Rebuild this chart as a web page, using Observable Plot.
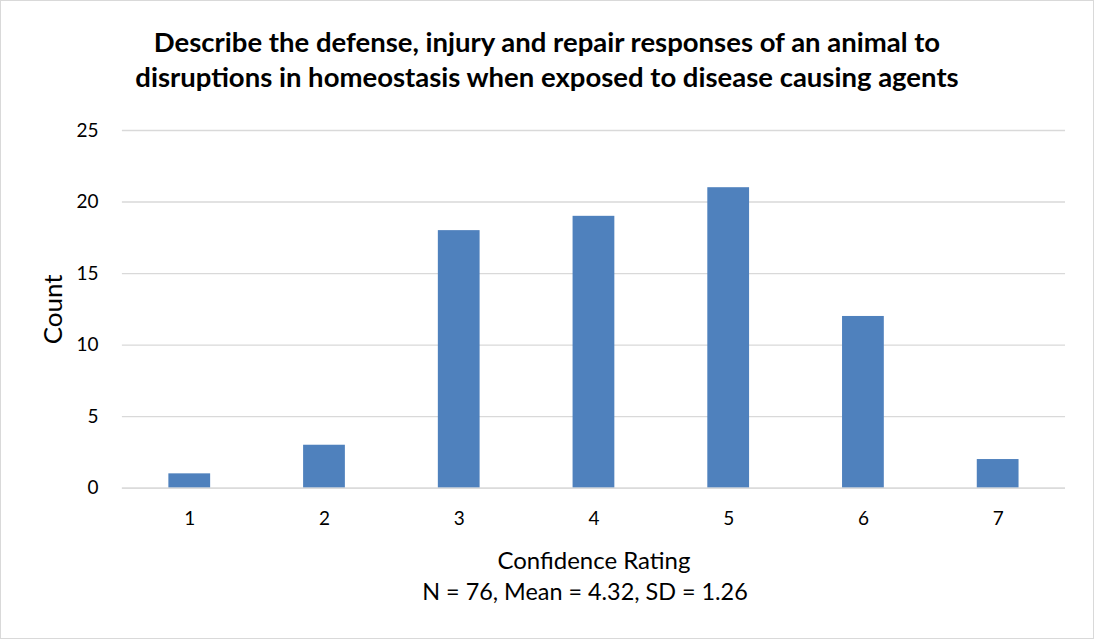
<!DOCTYPE html>
<html>
<head>
<meta charset="utf-8">
<script src="https://cdn.jsdelivr.net/npm/d3@7"></script>
<script src="https://cdn.jsdelivr.net/npm/@observablehq/plot@0.6"></script>
<style>
  html, body { margin: 0; padding: 0; background: #fff; }
  #chart {
    position: relative; width: 1094px; height: 639px; box-sizing: border-box;
    border: 1px solid #d9d9d9; background: #fff; overflow: hidden;
    font-family: Lato, "Open Sans", sans-serif; color: #000;
  }
  #title {
    position: absolute; left: -1px; top: 23px; width: 1094px; text-align: center;
    font-weight: bold; font-size: 27.5px; line-height: 35px; white-space: nowrap;
  }
  #plot { position: absolute; left: -1px; top: 108px; }
  #caption {
    position: absolute; left: 37px; top: 576px; width: 1094px; text-align: center;
    font-size: 23.4px; line-height: 28px; white-space: nowrap;
  }
</style>
</head>
<body>
<div id="chart">
  <div id="title">Describe the defense, injury and repair responses of an animal to<br>disruptions in homeostasis when exposed to disease causing agents</div>
  <div id="plot"></div>
  <div id="caption">N = 76, Mean = 4.32, SD = 1.26</div>
</div>
<script>
const ratings = ["1", "2", "3", "4", "5", "6", "7"];
const counts = [1, 3, 18, 19, 21, 12, 2];
const yTicks = [0, 5, 10, 15, 20, 25];
const xLabel = "Confidence Rating";
const yLabel = "Count";

const data = ratings.map((r, i) => ({rating: r, count: counts[i]}));

const chart = Plot.plot({
  width: 1094,
  height: 460,
  marginLeft: 122,
  marginRight: 28,
  marginTop: 21,
  marginBottom: 81,
  style: {fontFamily: "Lato, sans-serif", fontSize: "19px", color: "#000", background: "transparent", overflow: "visible"},
  x: {domain: ratings, paddingInner: 0.69, paddingOuter: 0.345, round: false},
  y: {domain: [0, 25]},
  marks: [
    Plot.gridY(yTicks, {stroke: "#d9d9d9", strokeOpacity: 1, strokeWidth: 1.3}),
    Plot.barY(data, {x: "rating", y: "count", fill: "#4f81bd"}),
    Plot.ruleY([0], {stroke: "#d9d9d9", strokeWidth: 1.3}),
    Plot.axisX({tickSize: 0, tickPadding: 23, fontSize: 19, label: null}),
    Plot.axisX({ticks: [], tickSize: 0, fontSize: 24, label: xLabel, labelAnchor: "center", labelOffset: 81, labelArrow: "none"}),
    Plot.axisY(yTicks, {tickSize: 0, tickPadding: 24, fontSize: 19, label: null}),
    Plot.axisY({ticks: [], tickSize: 0, fontSize: 26, label: yLabel, labelAnchor: "center", labelOffset: 78.5, labelArrow: "none"})
  ]
});
document.getElementById("plot").appendChild(chart);
</script>
</body>
</html>
